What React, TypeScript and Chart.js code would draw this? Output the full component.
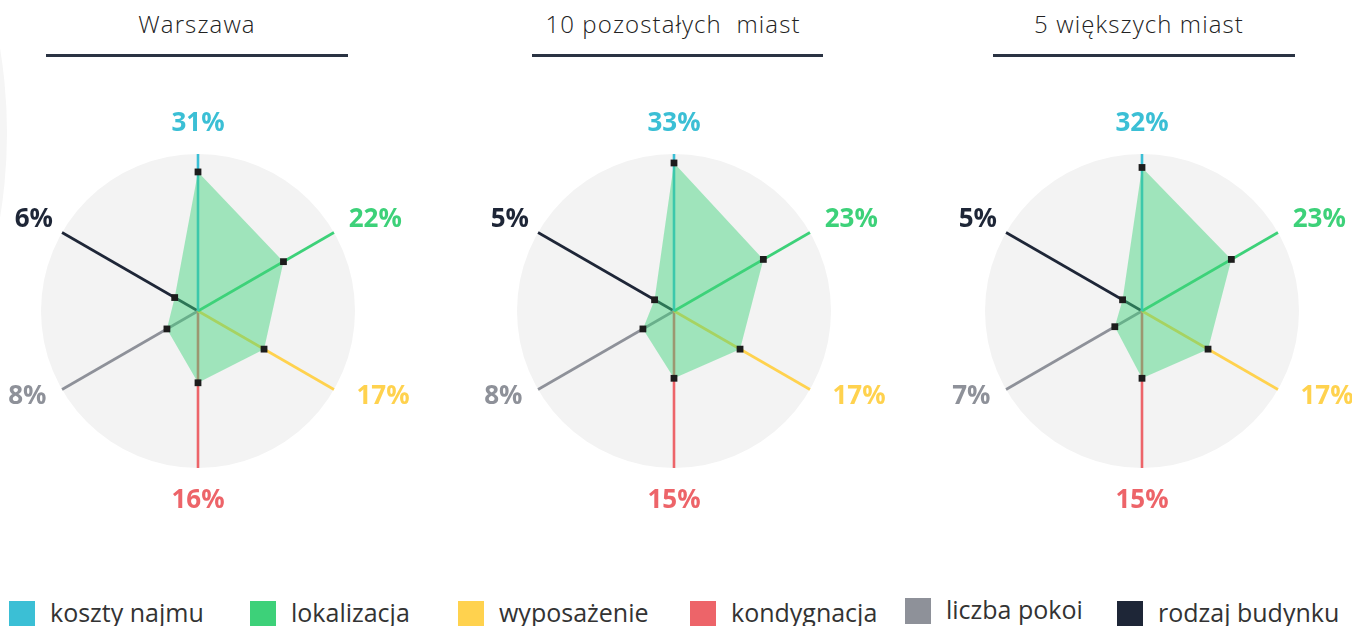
import React, { useEffect, useRef } from 'react';
import { Chart, registerables } from 'chart.js';

Chart.register(...registerables);

// ---------- data ----------
const CATEGORIES = ['koszty najmu', 'lokalizacja', 'wyposażenie', 'kondygnacja', 'liczba pokoi', 'rodzaj budynku'];
const CATEGORY_COLORS = ['#3bbfd5', '#3dd179', '#ffd24e', '#ed6469', '#8e9199', '#1e2637'];
const TITLES = ['Warszawa', '10 pozostałych  miast', '5 większych miast'];
const WARSZAWA = [31, 22, 17, 16, 8, 6];
const POZOSTALE_10 = [33, 23, 17, 15, 8, 5];
const WIEKSZE_5 = [32, 23, 17, 15, 7, 5];
const SERIES = [WARSZAWA, POZOSTALE_10, WIEKSZE_5];
const SCALE_MIN = 0;
const SCALE_MAX = 35;

// ---------- layout / style ----------
const CENTER_X = [198, 674, 1142];
const CENTER_Y = 311;
const RADIUS = 157;
const CANVAS_W = 480;
const CANVAS_H = 440;
const TITLE_CX = [197, 673, 1139];
const RULES = [
  { left: 46, width: 302 },
  { left: 532, width: 291 },
  { left: 993, width: 302 },
];
const LABEL_GAP = [32.5, 17, 26, 30.5, 18, 10.5];
const LABEL_DY = [0, -6.5, -8, 0, -4, -9.5];
const LABEL_ALIGN: CanvasTextAlign[] = ['center', 'left', 'left', 'center', 'right', 'right'];
const LEGEND_X = [9, 250, 458, 690, 905, 1117];
const LEGEND_DY = [0, 0, 0, 0, -3, 0];

const pctLabelPlugin = {
  id: 'pctLabels',
  afterDraw(chart: any) {
    const scale = chart.scales.r;
    const ctx = chart.ctx as CanvasRenderingContext2D;
    const values = chart.data.datasets[0].data as number[];
    const r = scale.drawingArea;
    ctx.save();
    ctx.font = '700 26px "Open Sans"';
    ctx.textBaseline = 'alphabetic';
    values.forEach((v, i) => {
      const text = `${v}%`;
      const p = scale.getPointPosition(i, r + LABEL_GAP[i]);
      const m = ctx.measureText(text);
      const h = m.actualBoundingBoxAscent - m.actualBoundingBoxDescent;
      ctx.textAlign = LABEL_ALIGN[i];
      ctx.fillStyle = CATEGORY_COLORS[i];
      ctx.fillText(text, p.x, p.y + LABEL_DY[i] + h / 2);
    });
    ctx.restore();
  },
};

function Radar({ values, index }: { values: number[]; index: number }) {
  const ref = useRef<HTMLCanvasElement | null>(null);
  useEffect(() => {
    if (!ref.current) return;
    const padX = CANVAS_W / 2 - RADIUS;
    const padY = CANVAS_H / 2 - RADIUS;
    const chart = new Chart(ref.current, {
      type: 'radar',
      data: {
        labels: CATEGORIES,
        datasets: [
          {
            data: values,
            backgroundColor: 'rgba(61,212,122,0.46)',
            borderColor: 'rgba(0,0,0,0)',
            borderWidth: 1,
            fill: true,
            pointStyle: 'rect',
            pointRadius: 4.8,
            pointBackgroundColor: '#1c1c1c',
            pointBorderWidth: 0,
            pointBorderColor: 'rgba(0,0,0,0)',
          },
        ],
      },
      options: {
        responsive: false,
        animation: false,
        layout: { padding: { left: padX, right: padX, top: padY, bottom: padY } },
        plugins: { legend: { display: false }, tooltip: { enabled: false } },
        scales: {
          r: {
            min: SCALE_MIN,
            max: SCALE_MAX,
            backgroundColor: '#f3f3f3',
            grid: { display: false, circular: true },
            angleLines: {
              display: true,
              lineWidth: 2.6,
              color: (c: any) => CATEGORY_COLORS[c.index],
            },
            ticks: { display: false },
            pointLabels: { display: false },
          },
        },
      } as any,
      plugins: [pctLabelPlugin],
    });
    return () => chart.destroy();
  }, [values]);
  return (
    <canvas
      ref={ref}
      width={CANVAS_W}
      height={CANVAS_H}
      style={{
        position: 'absolute',
        left: CENTER_X[index] - CANVAS_W / 2,
        top: CENTER_Y - CANVAS_H / 2,
        width: CANVAS_W,
        height: CANVAS_H,
      }}
    />
  );
}

export default function App() {
  return (
    <div
      style={{
        position: 'absolute',
        left: 0,
        top: 0,
        width: 1352,
        height: 626,
        overflow: 'hidden',
        background: '#ffffff',
        fontFamily: '"Open Sans", sans-serif',
      }}
    >
      <div
        style={{
          position: 'absolute',
          left: -1031,
          top: -386,
          width: 1038,
          height: 1038,
          borderRadius: '50%',
          background: '#f5f5f5',
        }}
      />
      {TITLES.map((t, i) => (
        <React.Fragment key={t}>
          <div
            style={{
              position: 'absolute',
              left: TITLE_CX[i] - 200,
              width: 400,
              top: 12,
              lineHeight: '24px',
              fontSize: 24,
              fontWeight: 300,
              letterSpacing: '1.1px',
              color: '#222222',
              textAlign: 'center',
              whiteSpace: 'pre',
            }}
          >
            {t}
          </div>
          <div
            style={{
              position: 'absolute',
              left: RULES[i].left,
              width: RULES[i].width,
              top: 54,
              height: 3,
              background: '#2a3343',
            }}
          />
        </React.Fragment>
      ))}
      {SERIES.map((s, i) => (
        <Radar key={i} values={s} index={i} />
      ))}
      {CATEGORIES.map((c, i) => (
        <div
          key={c}
          style={{
            position: 'absolute',
            left: LEGEND_X[i],
            top: 601 + LEGEND_DY[i],
            display: 'flex',
            alignItems: 'flex-start',
            whiteSpace: 'nowrap',
          }}
        >
          <div style={{ width: 26, height: 26, background: CATEGORY_COLORS[i], flex: 'none' }} />
          <div
            style={{
              marginLeft: 15,
              marginTop: -2,
              fontSize: 25,
              lineHeight: '26px',
              color: '#333333',
            }}
          >
            {c}
          </div>
        </div>
      ))}
    </div>
  );
}
